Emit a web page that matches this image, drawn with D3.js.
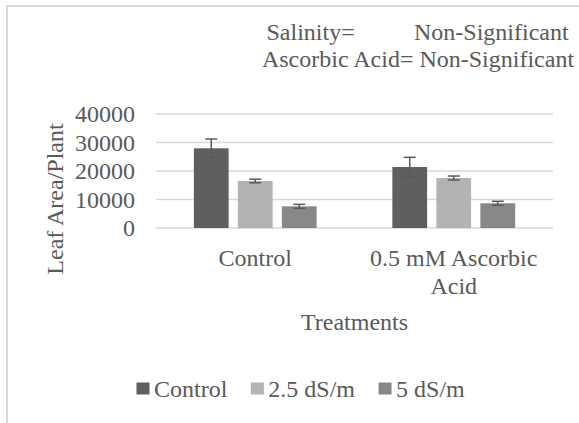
<!DOCTYPE html>
<html lang="en">
<head>
    <meta charset="UTF-8">
    <title>Leaf Area/Plant</title>
    <script src="https://cdn.jsdelivr.net/npm/d3@7/dist/d3.min.js"></script>
    <style>
        body { margin: 0; background: #fff; }
        svg { display: block; }
        .grid line { stroke: #d9d9d9; stroke-width: 1.5px; }
        text { fill: #595959; font-size: 24px; font-family: "Liberation Serif", "Times New Roman", Times, "DejaVu Serif", serif; }
    </style>
</head>
<body>
<script>
    // data
    const categories = ['Control', '0.5 mM Ascorbic Acid'];
    const categoryLines = [['Control'], ['0.5 mM Ascorbic', 'Acid']];
    const series = ['Control', '2.5 dS/m', '5 dS/m'];
    const controlValues = [27960, 21400];
    const controlErrors = [3270, 3400];
    const salt25Values = [16490, 17540];
    const salt25Errors = [630, 700];
    const salt5Values = [7610, 8670];
    const salt5Errors = [700, 700];
    const yTicks = [0, 10000, 20000, 30000, 40000];
    const colors = ['#5f5f5f', '#b3b3b3', '#888888'];

    const width = 579;
    const height = 423;

    const svg = d3.select('body').append('svg')
        .attr('width', width)
        .attr('height', height);

    // chart area border (cut off on right/bottom)
    svg.append('rect')
        .attr('x', 7).attr('y', 6)
        .attr('width', 700).attr('height', 600)
        .attr('fill', 'none')
        .attr('stroke', '#d9d9d9')
        .attr('stroke-width', 2);

    const x0 = d3.scaleBand().domain(categories).range([156, 553]);
    const x1 = d3.scaleBand().domain(series).range([0, x0.bandwidth()])
        .paddingInner(0.21).paddingOuter(0.86);
    const y = d3.scaleLinear().domain([0, 40000]).range([228, 114]);

    // gridlines
    svg.append('g').attr('class', 'grid')
        .selectAll('line').data(yTicks).enter().append('line')
        .attr('x1', 156).attr('x2', 553)
        .attr('y1', d => y(d)).attr('y2', d => y(d));

    // y axis labels
    const yAxis = svg.append('g')
        .attr('transform', 'translate(156,0)')
        .call(d3.axisLeft(y).tickValues(yTicks).tickSize(0).tickPadding(21).tickFormat(d3.format('d')));
    yAxis.select('.domain').remove();
    yAxis.selectAll('text')
        .attr('fill', '#595959')
        .attr('dy', '0.33em');

    const rows = categories.map((c, i) => ({
        cat: c,
        vals: [
            {s: series[0], v: controlValues[i], e: controlErrors[i]},
            {s: series[1], v: salt25Values[i], e: salt25Errors[i]},
            {s: series[2], v: salt5Values[i], e: salt5Errors[i]}
        ]
    }));

    const groups = svg.append('g').selectAll('g').data(rows).enter().append('g')
        .attr('transform', d => 'translate(' + x0(d.cat) + ',0)');

    groups.selectAll('rect').data(d => d.vals).enter().append('rect')
        .attr('x', d => x1(d.s))
        .attr('y', d => y(d.v))
        .attr('width', x1.bandwidth())
        .attr('height', d => y(0) - y(d.v))
        .attr('fill', (d, i) => colors[i]);

    // error bars
    const err = groups.selectAll('g.err').data(d => d.vals).enter().append('g')
        .attr('class', 'err')
        .attr('stroke', '#595959')
        .attr('stroke-width', 1.5);
    const cx = d => x1(d.s) + x1.bandwidth() / 2;
    err.append('line')
        .attr('x1', cx).attr('x2', cx)
        .attr('y1', d => y(d.v - d.e)).attr('y2', d => y(d.v + d.e));
    err.append('line')
        .attr('x1', d => cx(d) - 6).attr('x2', d => cx(d) + 6)
        .attr('y1', d => y(d.v + d.e)).attr('y2', d => y(d.v + d.e));
    err.append('line')
        .attr('x1', d => cx(d) - 6).attr('x2', d => cx(d) + 6)
        .attr('y1', d => y(d.v - d.e)).attr('y2', d => y(d.v - d.e));

    // category labels
    const catText = svg.append('g').selectAll('text').data(categories).enter().append('text')
        .attr('text-anchor', 'middle')
        .attr('y', 266);
    catText.selectAll('tspan').data((d, i) => categoryLines[i]).enter().append('tspan')
        .attr('x', function () { return x0(d3.select(this.parentNode).datum()) + x0.bandwidth() / 2; })
        .attr('dy', (d, i) => i === 0 ? 0 : 28)
        .text(d => d);

    // axis titles
    svg.append('text')
        .attr('x', (156 + 553) / 2)
        .attr('y', 330)
        .attr('text-anchor', 'middle')
        .text('Treatments');

    svg.append('text')
        .attr('transform', 'translate(63,199) rotate(-90)')
        .attr('text-anchor', 'middle')
        .text('Leaf Area/Plant');

    // significance note
    svg.append('text').attr('x', 266.5).attr('y', 40).text('Salinity=');
    svg.append('text').attr('x', 414).attr('y', 40).text('Non-Significant');
    svg.append('text').attr('x', 418).attr('y', 67).attr('text-anchor', 'middle')
        .text('Ascorbic Acid= Non-Significant');

    // legend
    let lx = 136.5;
    series.forEach((s, i) => {
        svg.append('rect')
            .attr('x', lx).attr('y', 382.5)
            .attr('width', 13).attr('height', 12)
            .attr('fill', colors[i]);
        const t = svg.append('text')
            .attr('x', lx + 17.5).attr('y', 397)
            .text(s);
        lx += 17.5 + t.node().getComputedTextLength() + 23.5;
    });
</script>
</body>
</html>
